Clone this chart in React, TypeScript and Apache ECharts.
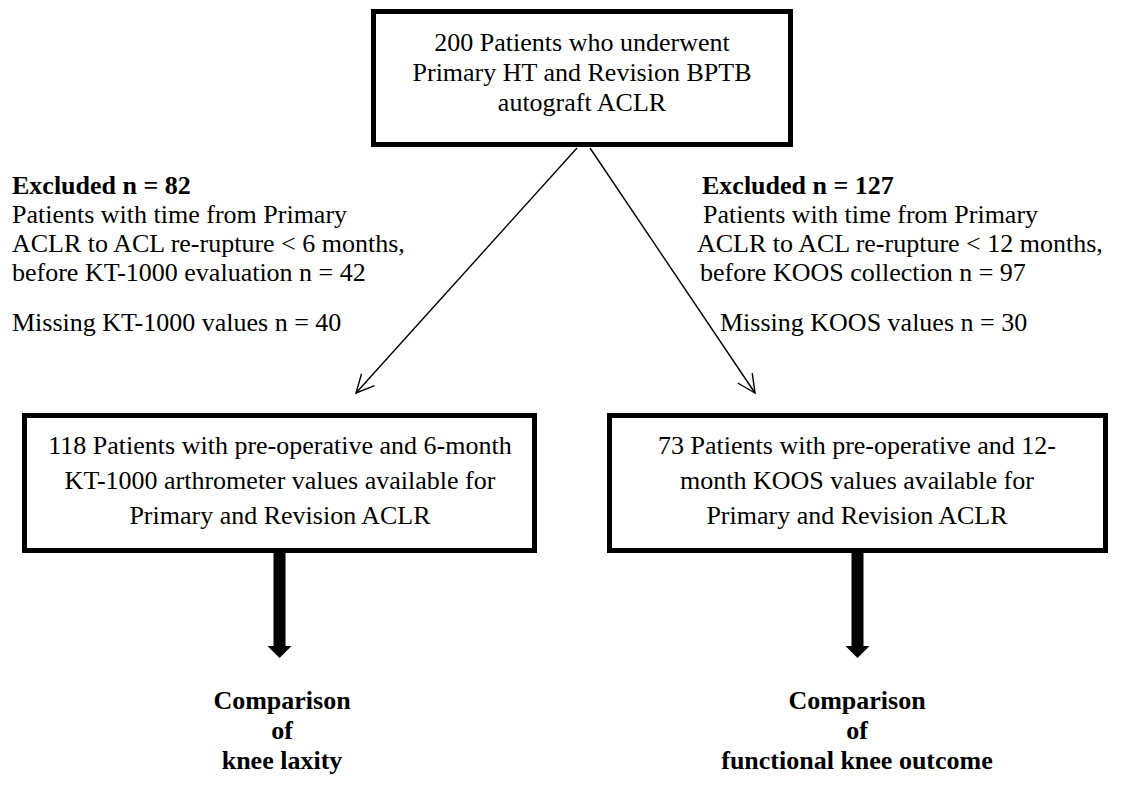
import React, { useEffect, useRef } from "react";
import * as echarts from "echarts";

// ---- content ----
const topLines = ["200 Patients who underwent", "Primary HT and Revision BPTB", "autograft ACLR"];
const leftExcludedTitle = "Excluded n = 82";
const leftExcludedLines = [
  "Patients with time from Primary",
  "ACLR to ACL re-rupture < 6 months,",
  "before KT-1000 evaluation n = 42",
];
const leftMissing = "Missing KT-1000 values n = 40";
const rightExcludedTitle = "Excluded n = 127";
const rightExcludedLines = [
  "Patients with time from Primary",
  "ACLR to ACL re-rupture < 12 months,",
  "before KOOS collection n = 97",
];
const rightMissing = "Missing KOOS values n = 30";
const leftBoxLines = [
  "118 Patients with pre-operative and 6-month",
  "KT-1000 arthrometer values available for",
  "Primary and Revision ACLR",
];
const rightBoxLines = [
  "73 Patients with pre-operative and 12-",
  "month KOOS values available for",
  "Primary and Revision ACLR",
];
const leftOutcome = ["Comparison", "of", "knee laxity"];
const rightOutcome = ["Comparison", "of", "functional knee outcome"];

// ---- layout ----
const FONT = "Liberation Serif, Times New Roman, Times, serif";
const FS = 26;

function txt(text: string, x: number, y: number, align: string, bold = false) {
  return {
    type: "text",
    silent: true,
    style: {
      text,
      x,
      y,
      fill: "#000",
      fontFamily: FONT,
      fontSize: FS,
      fontWeight: bold ? "bold" : "normal",
      textAlign: align,
      align,
      textVerticalAlign: "middle",
      verticalAlign: "middle",
    },
  };
}

function box(x0: number, y0: number, x1: number, y1: number, lw: number) {
  return {
    type: "rect",
    silent: true,
    shape: { x: x0 + lw / 2, y: y0 + lw / 2, width: x1 - x0 - lw, height: y1 - y0 - lw },
    style: { fill: "#fff", stroke: "#000", lineWidth: lw },
  };
}

function thinArrow(x0: number, y0: number, x1: number, y1: number) {
  const ang = Math.atan2(y1 - y0, x1 - x0);
  const L = 20;
  const a = (26 * Math.PI) / 180;
  const p1 = [x1 - L * Math.cos(ang - a), y1 - L * Math.sin(ang - a)];
  const p2 = [x1 - L * Math.cos(ang + a), y1 - L * Math.sin(ang + a)];
  return [
    {
      type: "line",
      silent: true,
      shape: { x1: x0, y1: y0, x2: x1, y2: y1 },
      style: { stroke: "#000", lineWidth: 1.4 },
    },
    {
      type: "polyline",
      silent: true,
      shape: { points: [p1, [x1, y1], p2] },
      style: { stroke: "#000", lineWidth: 1.4, fill: null },
    },
  ];
}

function thickArrow(cx: number, y0: number, y1: number) {
  const sw = 12;
  const hw = 24;
  const hh = 12;
  return {
    type: "polygon",
    silent: true,
    shape: {
      points: [
        [cx - sw / 2, y0],
        [cx + sw / 2, y0],
        [cx + sw / 2, y1 - hh],
        [cx + hw / 2, y1 - hh],
        [cx, y1],
        [cx - hw / 2, y1 - hh],
        [cx - sw / 2, y1 - hh],
      ],
    },
    style: { fill: "#000" },
  };
}

export default function App() {
  const ref = useRef<HTMLDivElement>(null);
  useEffect(() => {
    if (!ref.current) return;
    const chart = echarts.init(ref.current, null, { renderer: "svg" });
    const g: any[] = [];

    // top box
    g.push(box(371, 9, 793, 147, 5));
    const topY = [42, 72, 102];
    topLines.forEach((t, i) => g.push(txt(t, 582, topY[i], "center")));

    // diagonal arrows
    g.push(...thinArrow(577, 148, 356, 393));
    g.push(...thinArrow(590, 148, 755, 393));

    // excluded texts
    const exY = [185, 214, 243, 272];
    const missY = 322;
    g.push(txt(leftExcludedTitle, 12, exY[0], "left", true));
    leftExcludedLines.forEach((t, i) => g.push(txt(t, 12, exY[i + 1], "left")));
    g.push(txt(leftMissing, 12, missY, "left"));

    const rx = [702, 703, 697, 700];
    g.push(txt(rightExcludedTitle, rx[0], exY[0], "left", true));
    rightExcludedLines.forEach((t, i) => g.push(txt(t, rx[i + 1], exY[i + 1], "left")));
    g.push(txt(rightMissing, 720, missY, "left"));

    // lower boxes
    g.push(box(22, 413, 537, 553, 5));
    g.push(box(607, 413, 1108, 553, 5));
    const boxY = [445, 480, 515];
    leftBoxLines.forEach((t, i) => g.push(txt(t, 280, boxY[i], "center")));
    rightBoxLines.forEach((t, i) => g.push(txt(t, 857, boxY[i], "center")));

    // thick arrows
    g.push(thickArrow(279.5, 553, 658));
    g.push(thickArrow(857.5, 553, 658));

    // outcomes
    const outY = [700, 730, 760];
    leftOutcome.forEach((t, i) => g.push(txt(t, 282, outY[i], "center", true)));
    rightOutcome.forEach((t, i) => g.push(txt(t, 857, outY[i], "center", true)));

    chart.setOption({
      animation: false,
      backgroundColor: "#fff",
      graphic: { elements: g },
    });
    return () => chart.dispose();
  }, []);
  return (
    <div
      ref={ref}
      style={{ position: "fixed", left: 0, top: 0, width: 1124, height: 789, background: "#fff" }}
    />
  );
}
